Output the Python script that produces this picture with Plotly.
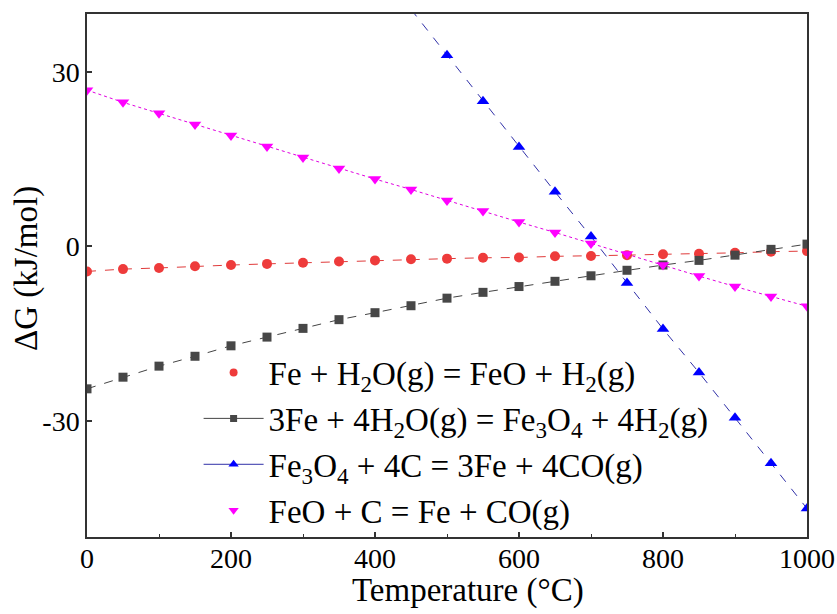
import plotly.graph_objects as go

temps = [0, 50, 100, 150, 200, 250, 300, 350, 400, 450, 500,
         550, 600, 650, 700, 750, 800, 850, 900, 950, 1000]

dg_feo_h2 = [-4.3, -3.9, -3.7, -3.4, -3.2, -3.0, -2.8, -2.6, -2.4, -2.2, -2.1,
             -1.95, -1.9, -1.7, -1.65, -1.5, -1.35, -1.25, -1.1, -0.9, -0.8]
dg_fe3o4_h2 = [-24.5, -22.5, -20.6, -18.9, -17.1, -15.6, -14.1, -12.6, -11.4, -10.2, -8.9,
               -7.9, -6.9, -6.0, -5.05, -4.1, -3.2, -2.4, -1.5, -0.5, 0.4]
temps_c = [450, 500, 550, 600, 650, 700, 750, 800, 850, 900, 950, 1000]
dg_fe3o4_c = [40.8, 32.9, 25.0, 17.1, 9.4, 1.7, -6.3, -14.2, -21.7, -29.5, -37.3, -45.1]
dg_feo_c = [26.9, 24.8, 22.9, 21.0, 19.1, 17.2, 15.3, 13.4, 11.6, 9.8, 7.9,
            6.1, 4.2, 2.4, 0.5, -1.3, -3.2, -5.1, -6.9, -8.6, -10.3]

names = [
    "Fe + H<sub>2</sub>O(g) = FeO + H<sub>2</sub>(g)",
    "3Fe + 4H<sub>2</sub>O(g) = Fe<sub>3</sub>O<sub>4</sub> + 4H<sub>2</sub>(g)",
    "Fe<sub>3</sub>O<sub>4</sub> + 4C = 3Fe + 4CO(g)",
    "FeO + C = Fe + CO(g)",
]

x_ticks = [0, 200, 400, 600, 800, 1000]
x_labels = ["0", "200", "400", "600", "800", "1000"]
y_ticks = [-30, 0, 30]
y_labels = ["-30", "0", "30"]
x_title = "Temperature (°C)"
y_title = "ΔG (kJ/mol)"

FONT = "Liberation Serif, Times New Roman, serif"

fig = go.Figure()

series = [
    (temps, dg_feo_h2, "#ee3b3b", "#e03a3a", "dash", "circle", 10, False),
    (temps, dg_fe3o4_h2, "#474747", "#444444", "dash", "square", 9, True),
    (temps_c, dg_fe3o4_c, "#0000ff", "#3030a8", "dash", "triangle-up", 11, True),
    (temps, dg_feo_c, "#ff00ff", "#e000e0", "dot", "triangle-down", 11, False),
]

for (xs, ys, mc, lc, dash, sym, sz, leg_line), nm in zip(series, names):
    fig.add_trace(go.Scatter(
        x=xs, y=ys, mode="lines+markers", showlegend=False,
        line=dict(color=lc, width=1, dash=dash),
        marker=dict(color=mc, symbol=sym, size=sz),
    ))
    fig.add_trace(go.Scatter(
        x=[None], y=[None], name=nm,
        mode="lines+markers" if leg_line else "markers",
        line=dict(color=lc, width=1),
        marker=dict(color=mc, symbol=sym, size=sz - 2),
    ))

axis_common = dict(
    tickfont=dict(family=FONT, size=28, color="black"),
    ticks="inside", ticklen=5, tickwidth=1.5, tickcolor="#333333",
    showline=True, linecolor="#333333", linewidth=1.5, mirror=True,
    showgrid=False, zeroline=False, automargin=False,
)

fig.update_layout(
    width=837, height=614,
    margin=dict(l=87, r=30, t=14, b=77),
    paper_bgcolor="white", plot_bgcolor="white",
    font=dict(family=FONT, size=30, color="black"),
    legend=dict(x=0.155, y=0.368, xanchor="left", yanchor="top",
                bgcolor="rgba(0,0,0,0)", font=dict(family=FONT, size=33, color="black"),
                itemwidth=60, tracegroupgap=0),
    xaxis=dict(
        range=[0, 1000], tickvals=x_ticks, ticktext=x_labels,
        ticklabelstandoff=-4,
        minor=dict(dtick=100, ticks="inside", ticklen=3, tickcolor="#333333", tickwidth=1),
        **axis_common,
    ),
    yaxis=dict(
        range=[-50, 40], tickvals=y_ticks, ticktext=y_labels,
        **axis_common,
    ),
    annotations=[
        dict(text=x_title, xref="paper", yref="paper", x=0.529, y=-0.102,
             xanchor="center", yanchor="middle", showarrow=False,
             font=dict(family=FONT, size=33, color="black")),
        dict(text=y_title, xref="paper", yref="paper", x=-0.085, y=0.514,
             xanchor="center", yanchor="middle", showarrow=False, textangle=-90,
             font=dict(family=FONT, size=33, color="black")),
    ],
)

fig.write_html("out.html")
